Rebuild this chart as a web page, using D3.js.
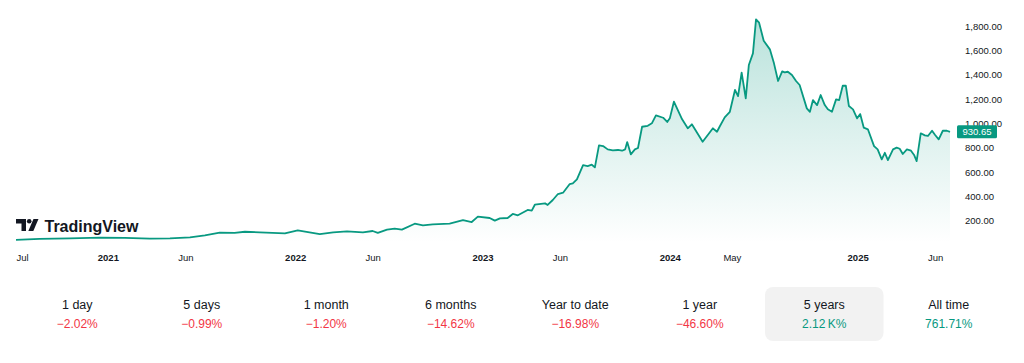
<!DOCTYPE html>
<html>
<head>
<meta charset="utf-8">
<script src="https://cdn.jsdelivr.net/npm/d3@7"></script>
<style>
  body { margin: 0; background: #fff; }
  text { font-family: "Liberation Sans", Arial, sans-serif; }
</style>
</head>
<body>
<div id="container"></div>
<script>
// weekly-ish closes
const dates = [
  "2020-07-06","2020-08-21","2020-10-19","2020-12-17","2021-02-03","2021-03-24","2021-05-02","2021-06-10",
  "2021-07-09","2021-08-07","2021-09-05","2021-09-25","2021-10-24","2021-12-12","2022-01-06","2022-02-18",
  "2022-03-16","2022-04-12","2022-05-13","2022-06-01","2022-06-11","2022-06-29","2022-07-14","2022-07-28",
  "2022-08-22","2022-09-07","2022-09-26","2022-10-29","2022-11-24","2022-12-11","2022-12-23","2023-01-15",
  "2023-01-25","2023-02-04","2023-02-19","2023-03-01","2023-03-11","2023-03-30","2023-04-07","2023-04-13",
  "2023-05-03","2023-05-08","2023-05-18","2023-05-28","2023-06-07","2023-06-20","2023-06-26","2023-07-04",
  "2023-07-16","2023-07-25","2023-08-02","2023-08-08","2023-08-16","2023-08-24","2023-09-02","2023-09-12",
  "2023-09-22","2023-09-30","2023-10-06","2023-10-10","2023-10-17","2023-10-25","2023-10-31","2023-11-08",
  "2023-11-19","2023-11-27","2023-12-05","2023-12-19","2023-12-27","2024-01-01","2024-01-09","2024-01-25",
  "2024-02-05","2024-02-13","2024-03-05","2024-03-25","2024-04-02","2024-04-07","2024-04-17","2024-04-27",
  "2024-05-07","2024-05-13","2024-05-20","2024-05-28","2024-06-03","2024-06-11","2024-06-17","2024-06-23",
  "2024-07-02","2024-07-14","2024-07-22","2024-07-30","2024-08-07","2024-08-12","2024-08-18","2024-08-26",
  "2024-09-03","2024-09-10","2024-09-24","2024-09-30","2024-10-06","2024-10-14","2024-10-21","2024-10-29",
  "2024-11-04","2024-11-12","2024-11-20","2024-11-26","2024-12-03","2024-12-09","2024-12-15","2024-12-23",
  "2024-12-31","2025-01-06","2025-01-13","2025-01-21","2025-02-02","2025-02-09","2025-02-17","2025-02-23",
  "2025-03-01","2025-03-11","2025-03-18","2025-03-24","2025-03-30","2025-04-07","2025-04-15","2025-04-21",
  "2025-04-26","2025-05-04","2025-05-12","2025-05-18","2025-05-26","2025-06-01","2025-06-08","2025-06-16",
  "2025-06-24","2025-06-30"
];
const prices = [
  42, 50, 55, 60, 58, 52, 55, 63,
  80, 101, 100, 109, 104, 96, 120, 90,
  104, 112, 104, 115, 99, 126, 134, 126,
  175, 162, 170, 175, 205, 189, 233, 222,
  200, 219, 222, 255, 244, 288, 282, 331,
  342, 329, 370, 419, 430, 501, 507, 540,
  657, 649, 660, 638, 819, 813, 786, 778,
  781, 775, 786, 846, 745, 786, 797, 972,
  980, 1000, 1066, 1046, 1011, 1041, 1178, 1033,
  959, 992, 849, 959, 931, 972, 1049, 1095,
  1274, 1224, 1416, 1205, 1479, 1575, 1855, 1827,
  1679, 1608, 1493, 1348, 1427, 1419, 1424, 1397,
  1348, 1315, 1123, 1095, 1191, 1150, 1233, 1150,
  1115, 1095, 1197, 1191, 1309, 1309, 1142, 1115,
  1041, 1076, 964, 951, 813, 786, 704, 758,
  698, 786, 800, 791, 748, 786, 775, 740,
  690, 918, 901, 896, 939, 904, 868, 939,
  939, 930.65
];

const yTicks = [200, 400, 600, 800, 1000, 1200, 1400, 1600, 1800];
const xTicks = ["2020-07-06","2021-01-01","2021-06-01","2022-01-01","2022-06-01","2023-01-01",
                "2023-06-01","2024-01-01","2024-05-01","2025-01-01","2025-06-01"];

const periods = ["1 day","5 days","1 month","6 months","Year to date","1 year","5 years","All time"];
const changes = ["\u22122.02%","\u22120.99%","\u22121.20%","\u221214.62%","\u221216.98%","\u221246.60%","2.12\u2009K%","761.71%"];
const changeUp = [false,false,false,false,false,false,true,true];
const selected = "5 years";

const green = "#089981";
const red = "#f23645";
const ink = "#131722";

const parse = d3.timeParse("%Y-%m-%d");
const data = dates.map((d, i) => ({date: parse(d), value: prices[i]}));

let viz = d3.select("#container")
  .append("svg")
    .attr("width", 1024)
    .attr("height", 363)
;

viz.append("rect")
    .attr("width", 1024)
    .attr("height", 363)
    .attr("fill", "#ffffff")
;

let x = d3.scaleTime()
    .domain([parse("2020-07-06"), parse("2025-06-30")])
    .range([16, 950]);

let y = d3.scaleLinear()
    .domain([0, 1800])
    .range([245, 26]);

// gradient under the line
let grad = viz.append("defs")
  .append("linearGradient")
    .attr("id", "fillGrad")
    .attr("gradientUnits", "userSpaceOnUse")
    .attr("x1", 0).attr("x2", 0)
    .attr("y1", y(1855)).attr("y2", 243);
grad.append("stop").attr("offset", 0).attr("stop-color", green).attr("stop-opacity", 0.28);
grad.append("stop").attr("offset", 1).attr("stop-color", green).attr("stop-opacity", 0.0);

let area = d3.area()
    .x(d => x(d.date))
    .y0(243)
    .y1(d => y(d.value));

let line = d3.line()
    .x(d => x(d.date))
    .y(d => y(d.value));

viz.append("path")
    .datum(data)
    .attr("d", area)
    .attr("fill", "url(#fillGrad)")
;

viz.append("path")
    .datum(data)
    .attr("d", line)
    .attr("fill", "none")
    .attr("stroke", green)
    .attr("stroke-width", 1.8)
    .attr("stroke-linejoin", "round")
;

// TradingView logo
let logo = viz.append("g").attr("fill", ink);
logo.append("path").attr("d", "M16 219 h10 v12 h-4.5 v-7.5 h-5.5 z");
logo.append("circle").attr("cx", 29.2).attr("cy", 221.3).attr("r", 2.3);
logo.append("path").attr("d", "M33.5 219 h5 l-5.2 12 h-5 z");
logo.append("text")
    .text("TradingView")
    .attr("x", 44.5)
    .attr("y", 231.5)
    .attr("font-size", 16)
    .attr("font-weight", 700)
    .attr("fill", ink)
;

// right axis
let yAxis = viz.append("g")
    .attr("transform", "translate(956,0)")
    .call(d3.axisRight(y).tickValues(yTicks).tickSize(0).tickPadding(9).tickFormat(d3.format(",.2f")));
yAxis.select(".domain").remove();
yAxis.selectAll("text")
    .attr("font-family", "Liberation Sans, Arial, sans-serif")
    .attr("font-size", 9.5)
    .attr("fill", ink);

// bottom axis
let xAxis = viz.append("g")
    .attr("transform", "translate(0,248)")
    .call(d3.axisBottom(x)
      .tickValues(xTicks.map(parse))
      .tickSize(0)
      .tickPadding(6)
      .tickFormat(d => d.getMonth() === 0 ? d3.timeFormat("%Y")(d) : d3.timeFormat("%b")(d)));
xAxis.select(".domain").remove();
xAxis.selectAll("text")
    .attr("font-family", "Liberation Sans, Arial, sans-serif")
    .attr("font-size", 9.5)
    .attr("fill", ink)
    .attr("font-weight", d => d.getMonth() === 0 ? 700 : 400)
    .attr("text-anchor", (d, i) => i === 0 ? "start" : "middle");

// last price tag
let last = data[data.length - 1];
viz.append("rect")
    .attr("x", 957)
    .attr("y", y(last.value) - 6.5)
    .attr("width", 40)
    .attr("height", 13)
    .attr("rx", 1.5)
    .attr("fill", green)
;
viz.append("text")
    .text(d3.format(".2f")(last.value))
    .attr("x", 977)
    .attr("y", y(last.value) + 3.5)
    .attr("text-anchor", "middle")
    .attr("font-size", 9.5)
    .attr("fill", "#ffffff")
;

// performance row
let col = d3.scaleBand()
    .domain(periods)
    .range([15, 1011]);

viz.append("rect")
    .attr("x", col(selected) + 3)
    .attr("y", 287)
    .attr("width", col.bandwidth() - 6)
    .attr("height", 54)
    .attr("rx", 8)
    .attr("fill", "#f2f2f2")
;

viz.selectAll(".period")
  .data(periods)
  .enter()
  .append("text")
    .attr("class", "period")
    .text(d => d)
    .attr("x", d => col(d) + col.bandwidth() / 2)
    .attr("y", 309)
    .attr("text-anchor", "middle")
    .attr("font-size", 12.5)
    .attr("fill", ink)
;

viz.selectAll(".change")
  .data(changes)
  .enter()
  .append("text")
    .attr("class", "change")
    .text(d => d)
    .attr("x", (d, i) => col(periods[i]) + col.bandwidth() / 2)
    .attr("y", 328)
    .attr("text-anchor", "middle")
    .attr("font-size", 12)
    .attr("fill", (d, i) => changeUp[i] ? green : red)
;
</script>
</body>
</html>
